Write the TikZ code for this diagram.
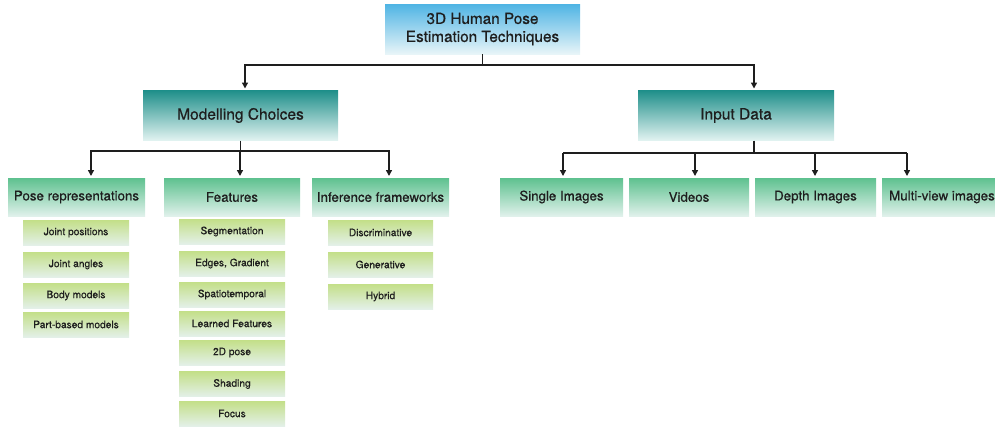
\documentclass[tikz,border=0pt]{standalone}
\usepackage{fontspec}
\setmainfont{TeX Gyre Heros}[FakeBold=0.6]
\usetikzlibrary{arrows.meta}

\definecolor{skyTop}{HTML}{4FB4E4}
\definecolor{skyBot}{HTML}{E8F5F8}
\definecolor{tealTop}{HTML}{1F8F8A}
\definecolor{tealBot}{HTML}{E2F3F1}
\definecolor{greenTop}{HTML}{5EC18F}
\definecolor{greenBot}{HTML}{E0F1EB}
\definecolor{limeTop}{HTML}{C3DF88}
\definecolor{limeBot}{HTML}{E3F0E8}
\definecolor{ink}{HTML}{1E1E1E}

\tikzset{
  box/.style={inner sep=0pt, outer sep=0pt, align=center, text=ink},
  rootbox/.style={box, minimum width=195pt, minimum height=50pt,
    top color=skyTop, bottom color=skyBot, font=\fontsize{15.3}{18}\selectfont},
  groupbox/.style={box, minimum width=195pt, minimum height=50pt,
    top color=tealTop, bottom color=tealBot, font=\fontsize{15.5}{18}\selectfont},
  catbox/.style={box, minimum height=38pt,
    top color=greenTop, middle color=greenTop!75!greenBot, bottom color=greenBot,
    font=\fontsize{13.3}{15}\selectfont},
  leafbox/.style={box, minimum width=106pt, minimum height=25pt,
    top color=limeTop, bottom color=limeBot, font=\fontsize{10.2}{12}\selectfont},
  arr/.style={draw=ink, line width=1.4pt,
    -{Triangle[length=6pt,width=6pt]}, shorten >=2pt},
  bus/.style={draw=ink, line width=1.4pt}
}

\begin{document}
\begin{tikzpicture}[x=1pt,y=-1pt]
\useasboundingbox (0,0) rectangle (995,426);
\clip (0,0) rectangle (995,426);

% root and the two main branches
\node[rootbox] (root) at (482.5,29) {3D Human Pose\\Estimation Techniques};
\node[groupbox] (model) at (240.5,115.5) {Modelling Choices};
\node[groupbox, minimum width=196pt] (input) at (736,115.5) {Input Data};

% modelling categories
\node[catbox, minimum width=137pt] (pose) at (76.5,197) {Pose representations};
\node[catbox, minimum width=136pt] (feat) at (232,197) {Features};
\node[catbox, minimum width=137pt] (infer) at (380.5,197) {Inference frameworks};

% input data categories
\node[catbox, minimum width=123pt] (single) at (561.5,197) {Single Images};
\node[catbox, minimum width=120pt] (video) at (689,197) {Videos};
\node[catbox, minimum width=121pt] (depth) at (815.5,197) {Depth Images};
\node[catbox, minimum width=120pt] (multi) at (942,197) {Multi-view images};

% pose representation leaves
\node[leafbox] (jpos) at (76,232.5) {Joint positions};
\node[leafbox] (jang) at (76,264.5) {Joint angles};
\node[leafbox] (body) at (76,295.5) {Body models};
\node[leafbox] (part) at (76,324.5) {Part-based models};

% feature leaves
\node[leafbox] (seg) at (232,231.5) {Segmentation};
\node[leafbox] (edge) at (232,263.5) {Edges, Gradient};
\node[leafbox] (spat) at (232,294.5) {Spatiotemporal};
\node[leafbox] (lear) at (232,323.5) {Learned Features};
\node[leafbox] (twod) at (232,352.5) {2D pose};
\node[leafbox] (shad) at (232,384) {Shading};
\node[leafbox] (focu) at (232,413.5) {Focus};

% inference leaves
\node[leafbox, minimum width=105pt] (disc) at (380.5,232.5) {Discriminative};
\node[leafbox, minimum width=105pt] (gene) at (380.5,264.5) {Generative};
\node[leafbox, minimum width=105pt] (hybr) at (380.5,296.5) {Hybrid};

% bus levels
\coordinate (bus0) at (0,65);
\coordinate (bus1) at (0,151);
\coordinate (bus2) at (0,153);

% root connectors
\draw[bus] (root.south) -- (root.south |- bus0);
\draw[arr] (root.south |- bus0) -| ([xshift=4.5pt]model.north);
\draw[arr] (root.south |- bus0) -| ([xshift=18pt]input.north);

% modelling choices connectors
\draw[bus] (model.south) -- (model.south |- bus1);
\draw[arr] (model.south |- bus1) -| ([xshift=14.5pt]pose.north);
\draw[arr] (model.south |- bus1) -| ([xshift=8pt]feat.north);
\draw[arr] (model.south |- bus1) -| ([xshift=8.5pt]infer.north);

% input data connectors
\coordinate (istem) at ([xshift=18pt]input.south);
\draw[bus] (istem) -- (istem |- bus2);
\draw[bus] ([xshift=1.5pt]single.north |- bus2) -- ([xshift=-35pt]multi.north |- bus2);
\draw[arr] ([xshift=1.5pt]single.north |- bus2) -- ([xshift=1.5pt]single.north);
\draw[arr] ([xshift=6pt]video.north |- bus2) -- ([xshift=6pt]video.north);
\draw[arr] ([xshift=-0.5pt]depth.north |- bus2) -- ([xshift=-0.5pt]depth.north);
\draw[arr] ([xshift=-35pt]multi.north |- bus2) -- ([xshift=-35pt]multi.north);
\end{tikzpicture}
\end{document}
